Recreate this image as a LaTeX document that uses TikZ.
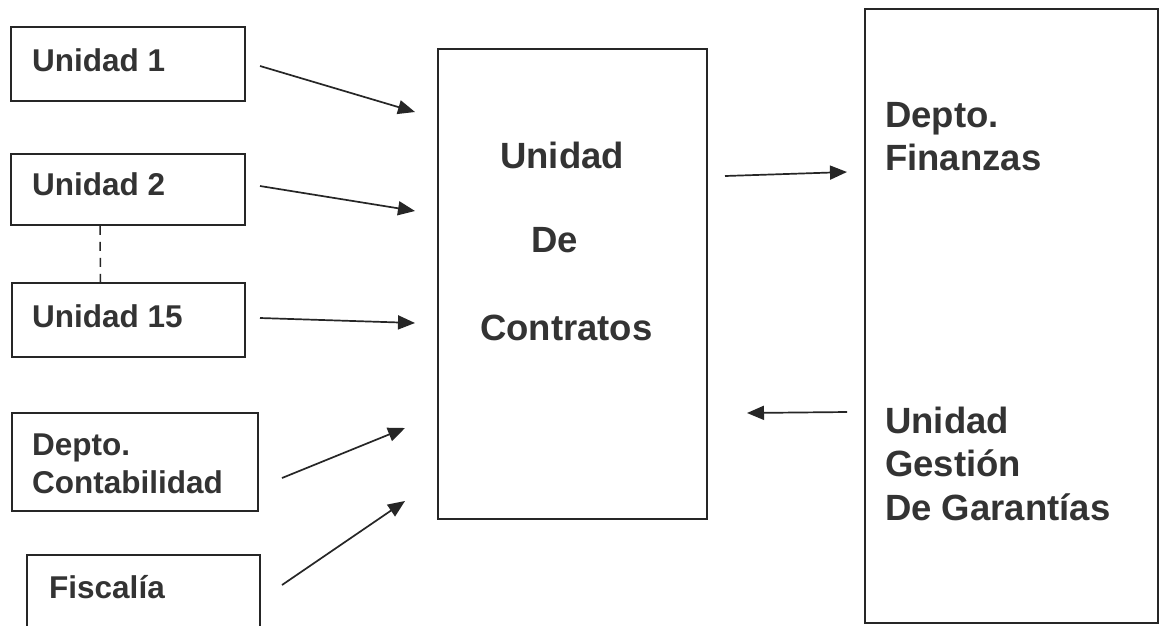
\documentclass[tikz,border=0pt]{standalone}
\usepackage{fontspec}
\setmainfont{Liberation Sans}
\usetikzlibrary{arrows.meta}
\definecolor{tinta}{HTML}{333333}
\definecolor{trazo}{HTML}{262626}

\begin{document}
\begin{tikzpicture}[x=1pt, y=-1pt,
  caja/.style={shape=rectangle, draw=trazo, line width=1.8pt, inner sep=0pt},
  rotulo/.style={anchor=base west, inner sep=0pt, text=tinta, font=\bfseries\fontsize{31.5}{38}\selectfont},
  rotulogrande/.style={anchor=base west, inner sep=0pt, text=tinta, font=\bfseries\fontsize{36.5}{44}\selectfont},
  flecha/.style={draw=trazo, line width=1.7pt, -{Triangle[length=17pt,width=14pt]}}]

\useasboundingbox (0,0) rectangle (1161,625);
\fill [white] (0,0) rectangle (1161,625);

% unidades de la izquierda
\node [caja, minimum width=234, minimum height=74] (u1) at (128,64) {};
\node [rotulo] (t-u1) at (32,71) {Unidad 1};
\node [caja, minimum width=234, minimum height=71] (u2) at (128,189.5) {};
\node [rotulo] (t-u2) at (32,195) {Unidad 2};
\node [caja, minimum width=233, minimum height=74] (u15) at (128.5,320) {};
\node [rotulo] (t-u15) at (32,327) {Unidad 15};
\draw [draw=trazo, line width=1.5pt, dash pattern=on 9pt off 7pt]  ([xshift=-28pt]u2.south) -- ([xshift=-28pt]u15.north);
\node [caja, minimum width=246, minimum height=98] (cont) at (135,462) {};
\node [rotulo] (t-cont1) at (32,455) {Depto.};
\node [rotulo] (t-cont2) at (32,493) {Contabilidad};
\node [caja, minimum width=233, minimum height=85] (fisc) at (143.5,597.5) {};
\node [rotulo] (t-fisc) at (49,598) {Fiscalía};

% unidad central
\node [caja, minimum width=269, minimum height=470] (uc) at (572.5,284) {};
\node [rotulogrande] (t-uc1) at (500,168) {Unidad};
\node [rotulogrande] (t-uc2) at (531,252) {De};
\node [rotulogrande] (t-uc3) at (480,340) {Contratos};

% bloque de la derecha
\node [caja, minimum width=293, minimum height=614] (der) at (1011.5,316) {};
\node [rotulogrande] (t-fin1) at (885,127) {Depto.};
\node [rotulogrande] (t-fin2) at (885,170) {Finanzas};
\node [rotulogrande] (t-gar1) at (885,433) {Unidad};
\node [rotulogrande] (t-gar2) at (885,476) {Gestión};
\node [rotulogrande] (t-gar3) at (885,520) {De Garantías};

% extremos de las flechas
\coordinate (s1) at (260,66);
\coordinate (e1) at (415,112);
\coordinate (s2) at (260,186);
\coordinate (e2) at (415,211);
\coordinate (s3) at (260,318);
\coordinate (e3) at (415,323);
\coordinate (s4) at (282,478);
\coordinate (e4) at (405,428);
\coordinate (s5) at (282,585);
\coordinate (e5) at (405,501);
\coordinate (s6) at (725,176);
\coordinate (e6) at (847,172);
\coordinate (s7) at (847,412);
\coordinate (e7) at (747,413);

\draw [flecha]  (s1) -- (e1);
\draw [flecha]  (s2) -- (e2);
\draw [flecha]  (s3) -- (e3);
\draw [flecha]  (s4) -- (e4);
\draw [flecha]  (s5) -- (e5);
\draw [flecha]  (s6) -- (e6);
\draw [flecha]  (s7) -- (e7);
\end{tikzpicture}
\end{document}
